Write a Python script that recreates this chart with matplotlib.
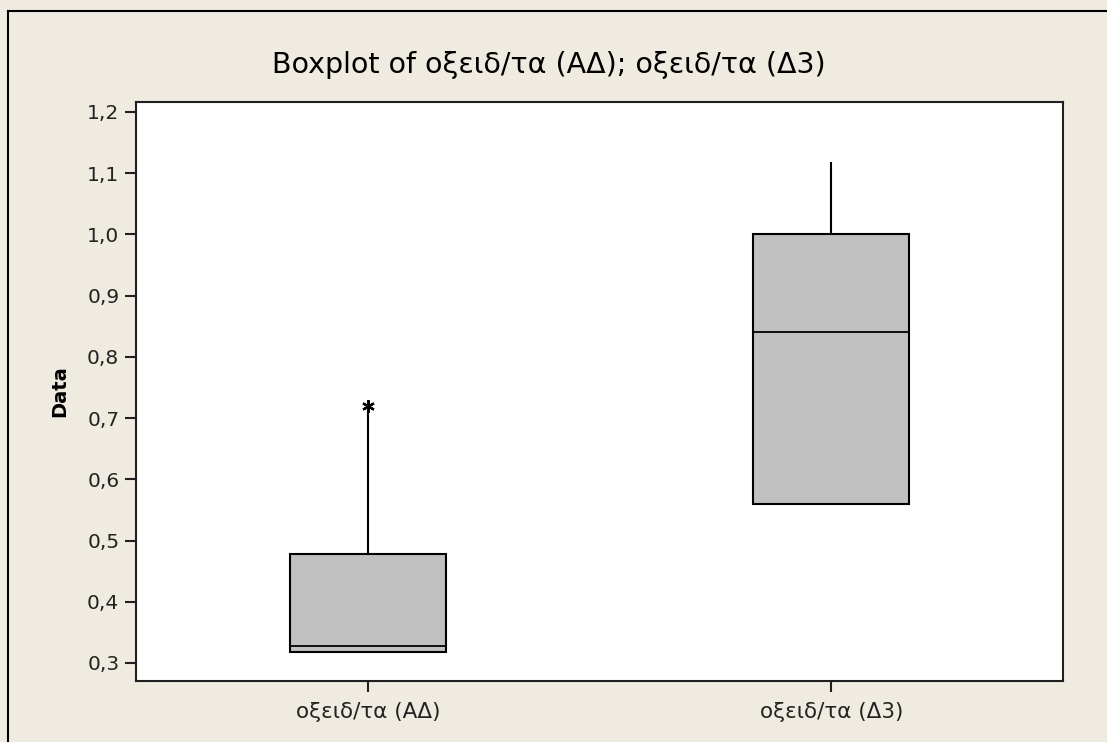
import matplotlib
matplotlib.use("Agg")
import matplotlib.pyplot as plt
from matplotlib.lines import Line2D
from matplotlib.ticker import FuncFormatter

# Summary statistics per variable
labels = ["οξειδ/τα (ΑΔ)", "οξειδ/τα (Δ3)"]
q1 = [0.318, 0.56]
median = [0.327, 0.84]
q3 = [0.478, 1.0]
whisker_low = [0.318, 0.56]
whisker_high = [0.713, 1.117]
outliers = [[0.72], []]

y_ticks = [0.3, 0.4, 0.5, 0.6, 0.7, 0.8, 0.9, 1.0, 1.1, 1.2]

W, H = 1107, 742
bg = "#EFEBE1"
plt.rcParams["font.family"] = ["DejaVu Sans"]
fig = plt.figure(figsize=(W / 100, H / 100), dpi=100, facecolor=bg)

# outer frame of the graph window
fig.add_artist(Line2D([8 / W, 8 / W], [0, 1 - 11 / H], color="black", lw=1.5,
                      transform=fig.transFigure))
fig.add_artist(Line2D([8 / W, 1], [1 - 11 / H, 1 - 11 / H], color="black", lw=1.5,
                      transform=fig.transFigure))

ax = fig.add_axes([136 / W, 1 - 681 / H, (1063 - 136) / W, (681 - 102) / H])
ax.set_facecolor("white")

stats = []
for i in range(len(labels)):
    stats.append(dict(label=labels[i], q1=q1[i], med=median[i], q3=q3[i],
                      whislo=whisker_low[i], whishi=whisker_high[i], fliers=outliers[i]))

ax.bxp(stats, positions=[1, 2], widths=0.336, showcaps=False, patch_artist=True,
       boxprops=dict(facecolor="#C0C0C0", edgecolor="black", linewidth=1.5),
       medianprops=dict(color="black", linewidth=1.3),
       whiskerprops=dict(color="black", linewidth=1.5),
       flierprops=dict(marker=(6, 2, 0), markersize=9, markeredgecolor="black",
                       markeredgewidth=1.6, linestyle="none"))

ax.set_xlim(0.5, 2.5)
ax.set_ylim(0.2706, 1.2163)
ax.set_yticks(y_ticks)
ax.yaxis.set_major_formatter(FuncFormatter(lambda v, p: f"{v:.1f}".replace(".", ",")))
ax.set_xticks([1, 2])
ax.set_xticklabels(labels)

for s in ax.spines.values():
    s.set_linewidth(1.5)
    s.set_color("#202020")
ax.tick_params(direction="out", length=8, width=1.5, color="#202020",
               labelsize=14.5, labelcolor="#222222", pad=4)
ax.tick_params(axis="x", pad=7, labelsize=15.5)

ax.set_ylabel("Data", fontsize=14, fontweight="bold", labelpad=13)
fig.text(549 / W, 1 - 73 / H, "Boxplot of οξειδ/τα (ΑΔ); οξειδ/τα (Δ3)",
         ha="center", va="baseline", fontsize=20.5)

fig.savefig("out.png", dpi=100, facecolor=bg)
